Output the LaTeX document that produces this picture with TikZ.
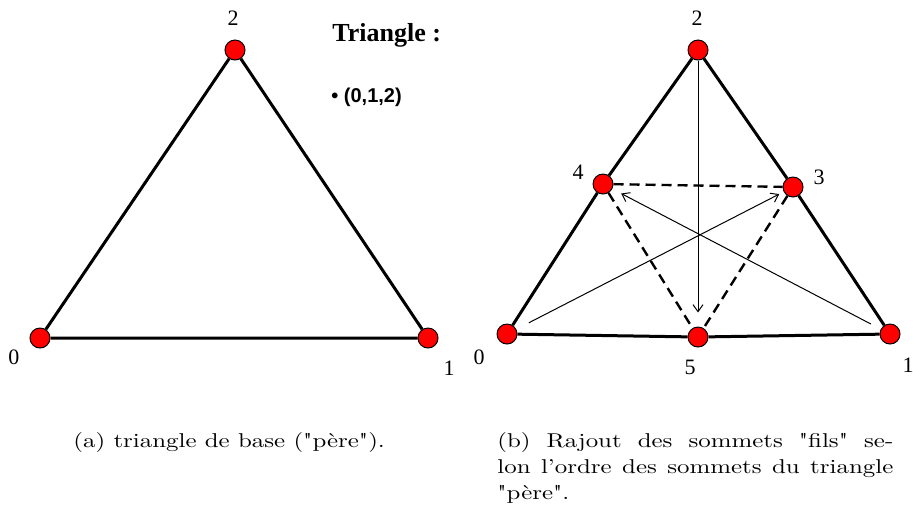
\documentclass[tikz,border=0pt]{standalone}
\usepackage{fontspec}
\usepackage{graphicx}
\newfontfamily\timesfont{Liberation Serif}
\newfontfamily\arialfont{Liberation Sans}
\usetikzlibrary{positioning,arrows.meta}
\definecolor{ptred}{HTML}{FF0000}
\newcommand{\guill}{\textquotedbl}

\begin{document}
\begin{tikzpicture}[
  x=0.5pt,y=-0.5pt,
  sommet/.style={circle,draw=black,line width=0.5pt,fill=ptred,inner sep=0pt,minimum size=10pt},
  num/.style={font=\timesfont\fontsize{11}{13}\selectfont,inner sep=0pt},
  arete/.style={line width=1.5pt},
  fils/.style={line width=1.2pt,dash pattern=on 5pt off 3pt},
  ordre/.style={-{Straight Barb[length=3.5pt,width=5pt]},line width=0.5pt},
  legende/.style={font=\fontsize{10}{13}\selectfont,inner sep=0pt,anchor=north west}
]
\useasboundingbox (0,0) rectangle (913,516);

% (a) triangle pere
\node[sommet] (a0) at (40,338) {};
\node[sommet] (a1) at (428,338) {};
\node[sommet] (a2) at (235,50) {};
\draw[arete] (a0) -- (a1) -- (a2) -- (a0);
\node[num] (na0) at (14,357) {0};
\node[num] (na1) at (449,368) {1};
\node[num] (na2) at (233,18) {2};

\node[font=\timesfont\bfseries\fontsize{13}{15}\selectfont,anchor=west,inner sep=0pt] (titre) at (332,35) {Triangle :};
\node[font=\arialfont\bfseries\fontsize{10}{12}\selectfont,anchor=west,inner sep=0pt] (liste) at (331,97) {\textbullet\ (0,1,2)};

% (b) sommets fils
\node[sommet] (b0) at (507,334) {};
\node[sommet] (b1) at (890,334) {};
\node[sommet] (b2) at (698,50) {};
\node[sommet] (b3) at (793,187) {};
\node[sommet] (b4) at (603,184) {};
\node[sommet] (b5) at (698,337) {};
\draw[arete] (b0) -- (b5) -- (b1) -- (b3) -- (b2) -- (b4) -- (b0);
\draw[fils] (b4) -- (b3);
\draw[fils] (b4) -- (b5);
\draw[fils] (b3) -- (b5);
\draw[ordre,shorten >=7pt] (b2) -- (b5);
\draw[ordre,shorten <=7pt,shorten >=2.5pt] (b0) -- (b3);
\draw[ordre,shorten <=5.5pt,shorten >=5pt] (b1) -- (b4);
\node[num] (nb0) at (479,357) {0};
\node[num] (nb1) at (908,365) {1};
\node[num] (nb2) at (697,18) {2};
\node[num] (nb3) at (819,177) {3};
\node[num] (nb4) at (578,172) {4};
\node[num] (nb5) at (690,367) {5};

% legendes
\node[legende] (capa) at (73,432) {\scalebox{1.245}[1]{(a) triangle de base (\guill père\guill).}};
\node[legende] (capb) at (497,432)
  {\scalebox{1.245}[1]{\parbox[t]{159pt}{\fontsize{10}{13}\selectfont\hbadness=10000\hfuzz=20pt
  (b) Rajout des sommets \guill fils\guill{} se-\linebreak lon l'ordre des sommets du triangle\linebreak \guill père\guill.}}};
\end{tikzpicture}
\end{document}
